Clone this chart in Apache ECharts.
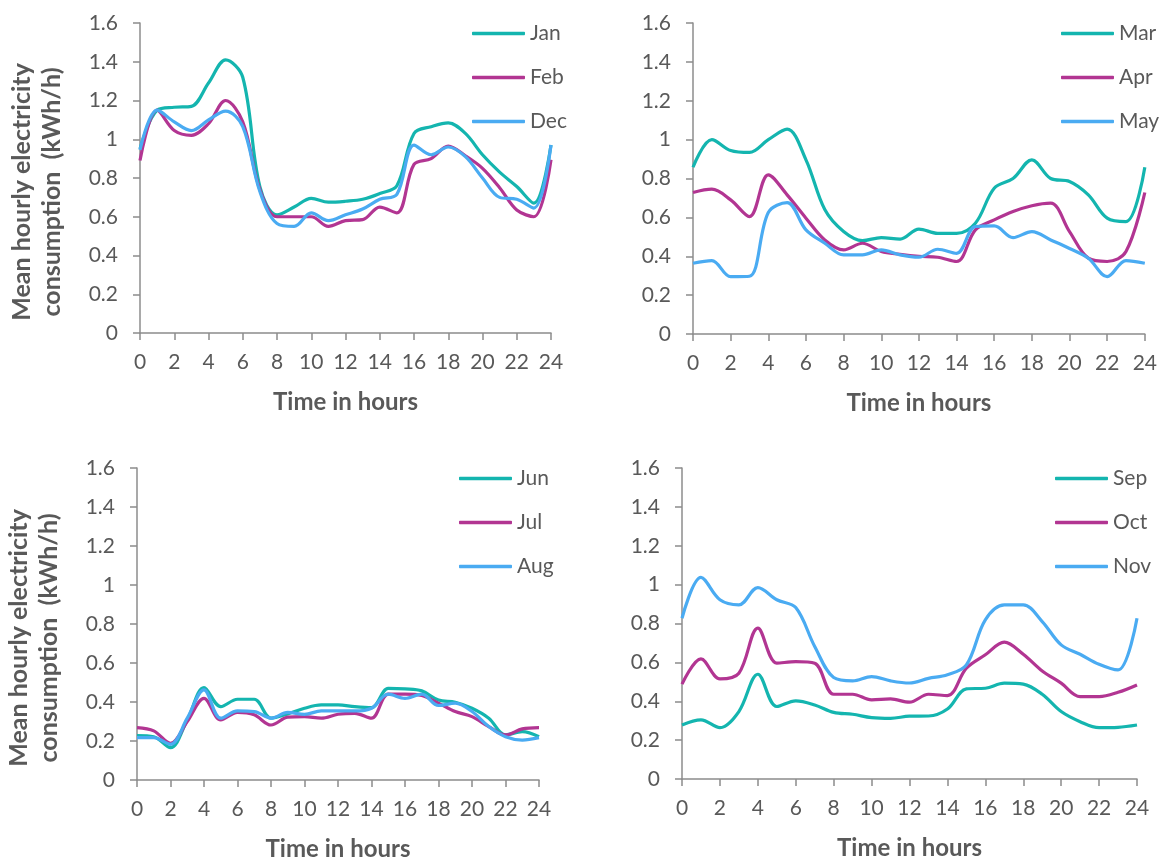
<!DOCTYPE html>
<html>
<head>
<meta charset="utf-8">
<script src="https://cdn.jsdelivr.net/npm/echarts@6/dist/echarts.min.js"></script>
<style>
html,body{margin:0;padding:0;background:#fff;}
#chart{width:1160px;height:862px;}
</style>
</head>
<body>
<div id="chart"></div>
<script>
const hours = [0,1,2,3,4,5,6,7,8,9,10,11,12,13,14,15,16,17,18,19,20,21,22,23,24];

const jan = [0.95,1.15,1.165,1.17,1.29,1.41,1.32,0.755,0.61,0.65,0.695,0.675,0.68,0.69,0.72,0.76,1.03,1.065,1.085,1.03,0.92,0.83,0.756,0.67,0.97];
const feb = [0.89,1.15,1.045,1.02,1.08,1.2,1.09,0.74,0.6,0.6,0.6,0.55,0.58,0.585,0.65,0.62,0.87,0.9,0.965,0.915,0.85,0.75,0.635,0.6,0.894];
const dec = [0.945,1.15,1.09,1.045,1.1,1.145,1.065,0.73,0.565,0.55,0.62,0.58,0.61,0.64,0.69,0.715,0.97,0.92,0.96,0.91,0.8,0.7,0.69,0.645,0.97];

const mar = [0.858,1.0,0.944,0.934,1.0,1.054,0.896,0.64,0.527,0.48,0.496,0.488,0.54,0.518,0.518,0.57,0.75,0.8,0.896,0.8,0.785,0.716,0.596,0.578,0.858];
const apr = [0.728,0.745,0.69,0.604,0.819,0.716,0.596,0.484,0.433,0.467,0.424,0.41,0.40,0.395,0.373,0.536,0.587,0.63,0.66,0.673,0.527,0.39,0.373,0.424,0.728];
const may = [0.364,0.378,0.295,0.297,0.625,0.676,0.536,0.467,0.407,0.407,0.433,0.407,0.395,0.436,0.415,0.553,0.556,0.496,0.527,0.484,0.44,0.39,0.295,0.378,0.364];

const jun = [0.228,0.222,0.166,0.308,0.474,0.376,0.414,0.414,0.317,0.339,0.368,0.385,0.385,0.376,0.371,0.47,0.467,0.457,0.41,0.399,0.368,0.317,0.231,0.248,0.222];
const jul = [0.269,0.252,0.188,0.3,0.419,0.308,0.347,0.334,0.282,0.322,0.325,0.317,0.337,0.342,0.317,0.44,0.44,0.433,0.394,0.351,0.325,0.274,0.231,0.262,0.269];
const aug = [0.217,0.217,0.183,0.317,0.462,0.317,0.354,0.351,0.317,0.347,0.337,0.354,0.354,0.354,0.368,0.44,0.419,0.44,0.382,0.394,0.351,0.274,0.222,0.205,0.217];

const sep = [0.278,0.304,0.264,0.347,0.539,0.373,0.402,0.381,0.343,0.333,0.316,0.312,0.323,0.324,0.36,0.464,0.467,0.493,0.488,0.436,0.347,0.295,0.264,0.266,0.278];
const oct = [0.488,0.618,0.515,0.544,0.776,0.596,0.604,0.596,0.436,0.436,0.407,0.412,0.395,0.436,0.429,0.57,0.639,0.704,0.642,0.556,0.493,0.424,0.424,0.446,0.484];
const nov = [0.827,1.037,0.922,0.896,0.985,0.922,0.882,0.682,0.522,0.505,0.527,0.505,0.494,0.518,0.536,0.587,0.819,0.896,0.896,0.81,0.69,0.642,0.59,0.561,0.827];

const panels = [
  {names:['Jan','Feb','Dec'], values:[jan,feb,dec]},
  {names:['Mar','Apr','May'], values:[mar,apr,may]},
  {names:['Jun','Jul','Aug'], values:[jun,jul,aug]},
  {names:['Sep','Oct','Nov'], values:[sep,oct,nov]}
];

const colors = ['#14B5AF','#B23592','#4AABF2'];
const textColor = '#595959';
const axisColor = '#8C8C8C';
const FONT = 'Lato';

const grids = [
  {left:140, top:23, width:411, height:310},
  {left:693, top:23, width:453, height:311},
  {left:137, top:468, width:402, height:312},
  {left:682, top:468, width:455, height:311}
];
const legendPos = [
  {left:472, top:23},
  {left:1061, top:23},
  {left:459, top:468},
  {left:1055, top:468}
];

const xAxes = [], yAxes = [], series = [], legends = [];
panels.forEach((p, i) => {
  xAxes.push({
    type:'value', gridIndex:i, min:0, max:24, interval:2,
    axisLine:{show:true, lineStyle:{color:axisColor, width:1.5}},
    axisTick:{show:true, length:7, lineStyle:{color:axisColor, width:1.5}},
    axisLabel:{color:textColor, fontFamily:FONT, fontSize:21, margin:19},
    splitLine:{show:false},
    name:'Time in hours', nameLocation:'middle', nameGap:57,
    nameTextStyle:{color:textColor, fontFamily:FONT, fontSize:24, fontWeight:'bold'}
  });
  const y = {
    type:'value', gridIndex:i, min:0, max:1.6, interval:0.2,
    axisLine:{show:true, lineStyle:{color:axisColor, width:1.5}},
    axisTick:{show:true, length:7, lineStyle:{color:axisColor, width:1.5}},
    axisLabel:{color:textColor, fontFamily:FONT, fontSize:21, margin:22},
    splitLine:{show:false}
  };
  if (i % 2 === 0) {
    y.name = 'Mean hourly electricity\nconsumption  (kWh/h)';
    y.nameLocation = 'middle';
    y.nameGap = 73;
    y.nameRotate = 90;
    y.nameTextStyle = {color:textColor, fontFamily:FONT, fontSize:25, fontWeight:'bold', lineHeight:30, padding:[0,28,0,0]};
  }
  yAxes.push(y);
  p.names.forEach((n, k) => {
    series.push({
      name:n, type:'line', xAxisIndex:i, yAxisIndex:i,
      data: hours.map((h, j) => [h, p.values[k][j]]),
      smooth:0.35, symbol:'none',
      lineStyle:{color:colors[k], width:3.2},
      itemStyle:{color:colors[k]}
    });
  });
  legends.push({
    data:p.names, orient:'vertical', left:legendPos[i].left, top:legendPos[i].top,
    padding:0, itemWidth:53, itemHeight:3.4, itemGap:23, icon:'roundRect',
    textStyle:{color:textColor, fontFamily:FONT, fontSize:21},
    selectedMode:false
  });
});

const chart = echarts.init(document.getElementById('chart'), null, {renderer:'canvas'});
chart.setOption({
  backgroundColor:'#ffffff',
  animation:false,
  grid:grids,
  xAxis:xAxes,
  yAxis:yAxes,
  legend:legends,
  series:series
});
</script>
</body>
</html>
